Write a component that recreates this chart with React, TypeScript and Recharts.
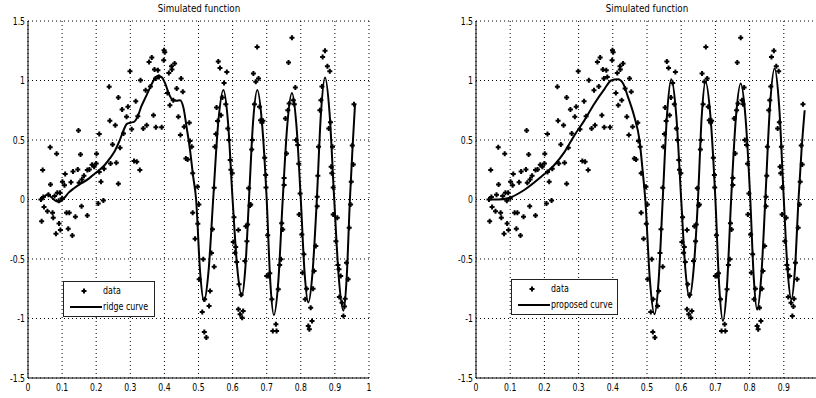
import { ComposedChart, Scatter, Line, XAxis, YAxis, CartesianGrid } from 'recharts';

// noisy samples, shared by both panels
const dataX = [
  0.043, 0.038, 0.065, 0.066, 0.084, 0.086, 0.094, 0.101, 0.109, 0.107, 0.126, 0.132, 0.148, 0.146, 0.154, 0.150,
  0.158, 0.164, 0.174, 0.180, 0.188, 0.194, 0.201, 0.200, 0.209, 0.209, 0.214, 0.223, 0.238, 0.240, 0.242, 0.248,
  0.256, 0.259, 0.265, 0.270, 0.276, 0.280, 0.265, 0.289, 0.293, 0.299, 0.304, 0.311, 0.316, 0.319, 0.322, 0.328,
  0.330, 0.338, 0.345, 0.348, 0.355, 0.359, 0.363, 0.368, 0.371, 0.374, 0.375, 0.381, 0.384, 0.392, 0.399, 0.401,
  0.398, 0.409, 0.413, 0.416, 0.421, 0.422, 0.426, 0.430, 0.436, 0.441, 0.447, 0.449, 0.454, 0.458, 0.463, 0.468,
  0.473, 0.475, 0.480, 0.483, 0.497,
  0.558, 0.563, 0.583, 0.553, 0.566, 0.570, 0.575, 0.586, 0.593, 0.599, 0.548, 0.546,
  0.661, 0.672, 0.668, 0.676, 0.682, 0.686, 0.689, 0.658, 0.697, 0.647,
  0.764, 0.774, 0.784, 0.778, 0.766, 0.755, 0.786, 0.791, 0.758, 0.751,
  0.864, 0.871, 0.878, 0.885, 0.859, 0.856, 0.882, 0.889, 0.891, 0.893, 0.852, 0.848,
  0.956, 0.951, 0.954,
  0.040, 0.047, 0.057, 0.072, 0.074, 0.082, 0.091, 0.095, 0.113, 0.121, 0.118, 0.130, 0.139, 0.157, 0.174, 0.206, 0.221,
  0.483, 0.490, 0.498, 0.501, 0.502, 0.514, 0.511, 0.517, 0.523, 0.518, 0.531, 0.534, 0.546,
  0.602, 0.607, 0.612, 0.617, 0.619, 0.617, 0.622, 0.628, 0.631, 0.636, 0.639, 0.644, 0.653,
  0.700, 0.705, 0.715, 0.718, 0.729, 0.727, 0.734, 0.742, 0.747,
  0.795, 0.803, 0.805, 0.809, 0.813, 0.822, 0.825, 0.829, 0.833, 0.839, 0.844, 0.848,
  0.895, 0.907, 0.912, 0.917, 0.913, 0.921, 0.925, 0.930, 0.934, 0.939, 0.942, 0.946,
  0.538, 0.541, 0.551, 0.556, 0.580, 0.589, 0.595, 0.604, 0.609, 0.625, 0.642, 0.651, 0.656, 0.664, 0.679, 0.694,
  0.698, 0.703, 0.709, 0.738, 0.744, 0.751, 0.762, 0.781, 0.794, 0.798, 0.817, 0.836, 0.850, 0.862, 0.887, 0.895,
  0.903, 0.909, 0.928, 0.948, 0.045, 0.060, 0.078, 0.090, 0.100,
];
const dataY = [
  0.247, 0.0, 0.44, 0.127, 0.385, 0.057, 0.057, 0.15, 0.214, 0.119, 0.144, 0.236, 0.58, 0.253, 0.379, 0.141,
  0.169, 0.2, 0.247, 0.253, 0.292, 0.275, 0.385, 0.303, 0.551, 0.231, 0.15, 0.259, 0.947, 0.661, 0.303, 0.463,
  0.625, 0.309, 0.857, 0.435, 0.756, 0.555, 0.133, 0.695, 0.779, 1.078, 0.591, 0.323, 0.826, 0.317, 0.7, 0.247,
  1.002, 0.597, 0.919, 0.625, 1.156, 0.949, 1.193, 0.709, 1.092, 1.016, 0.608, 1.087, 1.03, 0.608, 1.254, 1.237,
  1.171, 0.896, 1.064, 0.793, 1.12, 1.092, 0.835, 1.142, 0.933, 0.695, 0.541, 1.016, 0.905, 0.611, 0.345, 0.337,
  0.645, 0.491, 0.443, 0.22, 0.108,
  1.159, 1.106, 1.072, 0.773, 0.709, 0.857, 0.98, 0.597, 0.331, 0.22, 0.443, 0.099,
  1.058, 1.282, 0.989, 1.016, 0.667, 0.645, 0.661, 0.499, 0.206, 0.094,
  1.151, 1.36, 0.941, 0.835, 0.807, 0.681, 0.499, 0.457, 0.387, 0.122,
  1.198, 1.249, 1.12, 1.078, 0.835, 0.751, 0.597, 0.275, 0.22, 0.443, 0.443, 0.024,
  0.801, 0.454, 0.295,
  -0.182, -0.062, -0.098, -0.112, -0.154, -0.288, -0.201, -0.257, -0.112, -0.112, -0.246, -0.302, -0.145, -0.056, -0.134, -0.034, -0.008,
  -0.112, -0.33, -0.204, -0.042, -0.671, -0.503, -0.945, -1.113, -1.16, -0.839, -0.895, -0.769, -0.565,
  -0.358, -0.447, -0.526, -0.257, -0.713, -0.923, -0.965, -0.993, -0.937, -0.517, -0.224, -0.21, -0.042,
  -0.643, -0.643, -0.839, -1.105, -1.105, -1.049, -0.755, -0.503, -0.252,
  -0.126, -0.294, -0.615, -0.461, -0.839, -1.063, -1.091, -0.909, -1.021, -0.601, -0.391, -0.056,
  -0.126, -0.154, -0.587, -0.643, -0.819, -0.867, -0.979, -0.833, -0.531, -0.671, -0.238, -0.042,
  -0.45, -0.25, 0.55, 0.66, 0.8, 0.5, 0.25, -0.15, -0.4, -0.8, -0.35, -0.05, 0.42, 0.8, 0.78, 0.35,
  0.1, -0.3, -0.62, -0.55, -0.2, 0.18, 0.75, 0.8, 0.3, 0.05, -0.75, -0.75, 0.2, 0.95, 0.65, 0.1,
  -0.35, -0.55, -0.9, 0.15, 0.02, 0.04, 0.03, -0.01, 0.01,
];

// left panel fit
const ridgeX = [
  0.04, 0.05, 0.058, 0.068, 0.08, 0.092, 0.105, 0.12, 0.135, 0.15, 0.165, 0.18, 0.195, 0.21, 0.225, 0.24, 0.255,
  0.268, 0.28, 0.29, 0.3, 0.312, 0.322, 0.332, 0.345, 0.358, 0.37, 0.382, 0.393, 0.403, 0.413, 0.423, 0.435, 0.446,
  0.456, 0.465, 0.475, 0.484, 0.493, 0.5045, 0.516, 0.5295, 0.543, 0.558, 0.573, 0.5865, 0.6, 0.6135, 0.627, 0.6375,
  0.648, 0.66, 0.6725, 0.686, 0.7, 0.7105, 0.721, 0.734, 0.747, 0.7605, 0.774, 0.787, 0.8, 0.811, 0.822, 0.8345,
  0.847, 0.859, 0.871, 0.8845, 0.898, 0.9115, 0.925, 0.9345, 0.944, 0.952, 0.959,
];
const ridgeY = [
  0.0, 0.03, 0.045, 0.02, -0.01, -0.02, 0.01, 0.06, 0.095, 0.125, 0.15, 0.18, 0.215, 0.25, 0.29, 0.345, 0.41,
  0.49, 0.58, 0.635, 0.645, 0.655, 0.7, 0.78, 0.86, 0.94, 1.01, 1.04, 1.025, 0.97, 0.89, 0.84, 0.83, 0.835,
  0.77, 0.61, 0.42, 0.2, 0.0, -0.6, -0.855, -0.6, 0.0, 0.65, 0.92, 0.65, 0.0, -0.57, -0.81, -0.57,
  0.0, 0.65, 0.92, 0.65, 0.0, -0.69, -0.97, -0.69, 0.0, 0.63, 0.895, 0.63, 0.0, -0.61, -0.865, -0.61,
  0.0, 0.72, 1.025, 0.72, 0.0, -0.66, -0.935, -0.66, 0.0, 0.45, 0.8,
];

// right panel fit
const proposedX = [
  0.039, 0.065, 0.093, 0.141, 0.19, 0.229, 0.259, 0.288, 0.317, 0.346, 0.376, 0.395, 0.415, 0.43, 0.444, 0.463,
  0.478, 0.488, 0.495, 0.5085, 0.522, 0.534, 0.546, 0.5585, 0.571, 0.5855, 0.6, 0.612, 0.624, 0.6365, 0.649, 0.66,
  0.671, 0.6855, 0.7, 0.711, 0.722, 0.734, 0.746, 0.76, 0.774, 0.788, 0.802, 0.812, 0.822, 0.834, 0.846, 0.8595,
  0.873, 0.8865, 0.9, 0.911, 0.922, 0.9325, 0.943, 0.952, 0.961,
];
const proposedY = [
  0.0, 0.0, 0.01, 0.08, 0.19, 0.29, 0.4, 0.54, 0.665, 0.805, 0.93, 1.0, 1.01, 0.975, 0.865, 0.695,
  0.5, 0.22, 0.0, -0.68, -0.965, -0.68, 0.0, 0.71, 1.01, 0.71, 0.0, -0.58, -0.825, -0.58, 0.0, 0.7,
  0.99, 0.7, 0.0, -0.72, -1.02, -0.72, 0.0, 0.69, 0.975, 0.69, 0.0, -0.65, -0.925, -0.65, 0.0, 0.78,
  1.1, 0.78, 0.0, -0.59, -0.84, -0.59, 0.0, 0.42, 0.75,
];

const xTicksFull = [0, 0.1, 0.2, 0.3, 0.4, 0.5, 0.6, 0.7, 0.8, 0.9, 1];
const xTicksCut = [0, 0.1, 0.2, 0.3, 0.4, 0.5, 0.6, 0.7, 0.8, 0.9];
const yTicks = [-1.5, -1, -0.5, 0, 0.5, 1, 1.5];

const points = dataX.map((x, i) => ({ x, y: dataY[i] }));
const ridge = ridgeX.map((x, i) => ({ x, y: ridgeY[i] }));
const proposed = proposedX.map((x, i) => ({ x, y: proposedY[i] }));

const FONT = "'Liberation Sans Narrow', 'DejaVu Sans Condensed', sans-serif";

function XTick(props: any) {
  const { x, y, payload } = props;
  return (
    <g transform={`translate(${x},${y})`}>
      <text transform="scale(0.78,1)" textAnchor="middle" dy="0.71em" fontSize={11} fill="#000" fontFamily={FONT}>
        {String(payload.value)}
      </text>
    </g>
  );
}

function YTick(props: any) {
  const { x, y, payload } = props;
  return (
    <g transform={`translate(${x},${y})`}>
      <text transform="scale(0.78,1)" textAnchor="end" dy="0.355em" fontSize={11} fill="#000" fontFamily={FONT}>
        {String(payload.value)}
      </text>
    </g>
  );
}

function Marker(p: any) {
  const { cx, cy } = p;
  return (
    <path
      d={`M${cx - 2.5},${cy}H${cx + 2.5}M${cx},${cy - 2.5}V${cy + 2.5}`}
      stroke="#000"
      strokeWidth={2}
    />
  );
}

interface PanelProps {
  left: number;
  rightMargin: number;
  curve: { x: number; y: number }[];
  label: string;
  ticks: number[];
  legend: { left: number; top: number; width: number; height: number };
}

function Panel({ left, rightMargin, curve, label, ticks, legend }: PanelProps) {
  const plotLeft = left + 28;
  const plotRight = left + 400 - rightMargin;
  return (
    <>
      <div
        style={{
          position: 'absolute',
          left: (plotLeft + plotRight) / 2 - 60,
          width: 120,
          top: 2,
          textAlign: 'center',
          fontSize: 11,
          transform: 'scaleX(0.88)',
          fontFamily: FONT,
        }}
      >
        Simulated function
      </div>
      <div style={{ position: 'absolute', left, top: 0 }}>
        <ComposedChart width={400} height={398} margin={{ top: 21, right: rightMargin, bottom: 0, left: 0 }}>
          <CartesianGrid stroke="#000" strokeDasharray="1 3" />
          <XAxis
            type="number"
            dataKey="x"
            domain={[0, 1]}
            ticks={ticks}
            interval={0}
            height={20}
            tickSize={0}
            tickMargin={5}
            tick={<XTick />}
            tickLine={false}
            axisLine={{ stroke: '#000' }}
            allowDataOverflow
          />
          <YAxis
            type="number"
            dataKey="y"
            domain={[-1.5, 1.5]}
            ticks={yTicks}
            interval={0}
            width={28}
            tickSize={0}
            tickMargin={3}
            tick={<YTick />}
            tickLine={false}
            axisLine={{ stroke: '#000' }}
            allowDataOverflow
          />
          <Scatter data={points} shape={<Marker />} fill="#000" isAnimationActive={false} />
          <Line
            data={curve}
            dataKey="y"
            type="monotone"
            stroke="#000"
            strokeWidth={2}
            dot={false}
            isAnimationActive={false}
          />
        </ComposedChart>
      </div>
      <div
        style={{
          position: 'absolute',
          left: legend.left,
          top: legend.top,
          width: legend.width,
          height: legend.height,
          border: '1px solid #222',
          background: '#fff',
          boxSizing: 'border-box',
          fontFamily: FONT,
          fontSize: 11,
        }}
      >
        <svg width={40} height={34} style={{ position: 'absolute', left: 0, top: 0 }}>
          <path
            d={`M${20 - 2.5},9H${20 + 2.5}M20,${9 - 2.5}V${9 + 2.5}`}
            stroke="#000"
            strokeWidth={2}
          />
          <line x1={6} x2={38} y1={25} y2={25} stroke="#000" strokeWidth={2} />
        </svg>
        <div
          style={{
            position: 'absolute',
            left: 39,
            top: 2,
            lineHeight: '14px',
            transform: 'scaleX(0.8)',
            transformOrigin: 'left center',
          }}
        >
          data
        </div>
        <div
          style={{
            position: 'absolute',
            left: 39,
            top: 18,
            lineHeight: '14px',
            whiteSpace: 'nowrap',
            transform: 'scaleX(0.8)',
            transformOrigin: 'left center',
          }}
        >
          {label}
        </div>
      </div>
    </>
  );
}

export default function App() {
  return (
    <div
      style={{
        position: 'fixed',
        left: 0,
        top: 0,
        width: 816,
        height: 398,
        overflow: 'hidden',
        background: '#fff',
      }}
    >
      <Panel
        left={0}
        rightMargin={31}
        curve={ridge}
        label="ridge curve"
        ticks={xTicksFull}
        legend={{ left: 63, top: 281, width: 92, height: 36 }}
      />
      <Panel
        left={448}
        rightMargin={30}
        curve={proposed}
        label="proposed curve"
        ticks={xTicksCut}
        legend={{ left: 511, top: 279, width: 107, height: 36 }}
      />
    </div>
  );
}
